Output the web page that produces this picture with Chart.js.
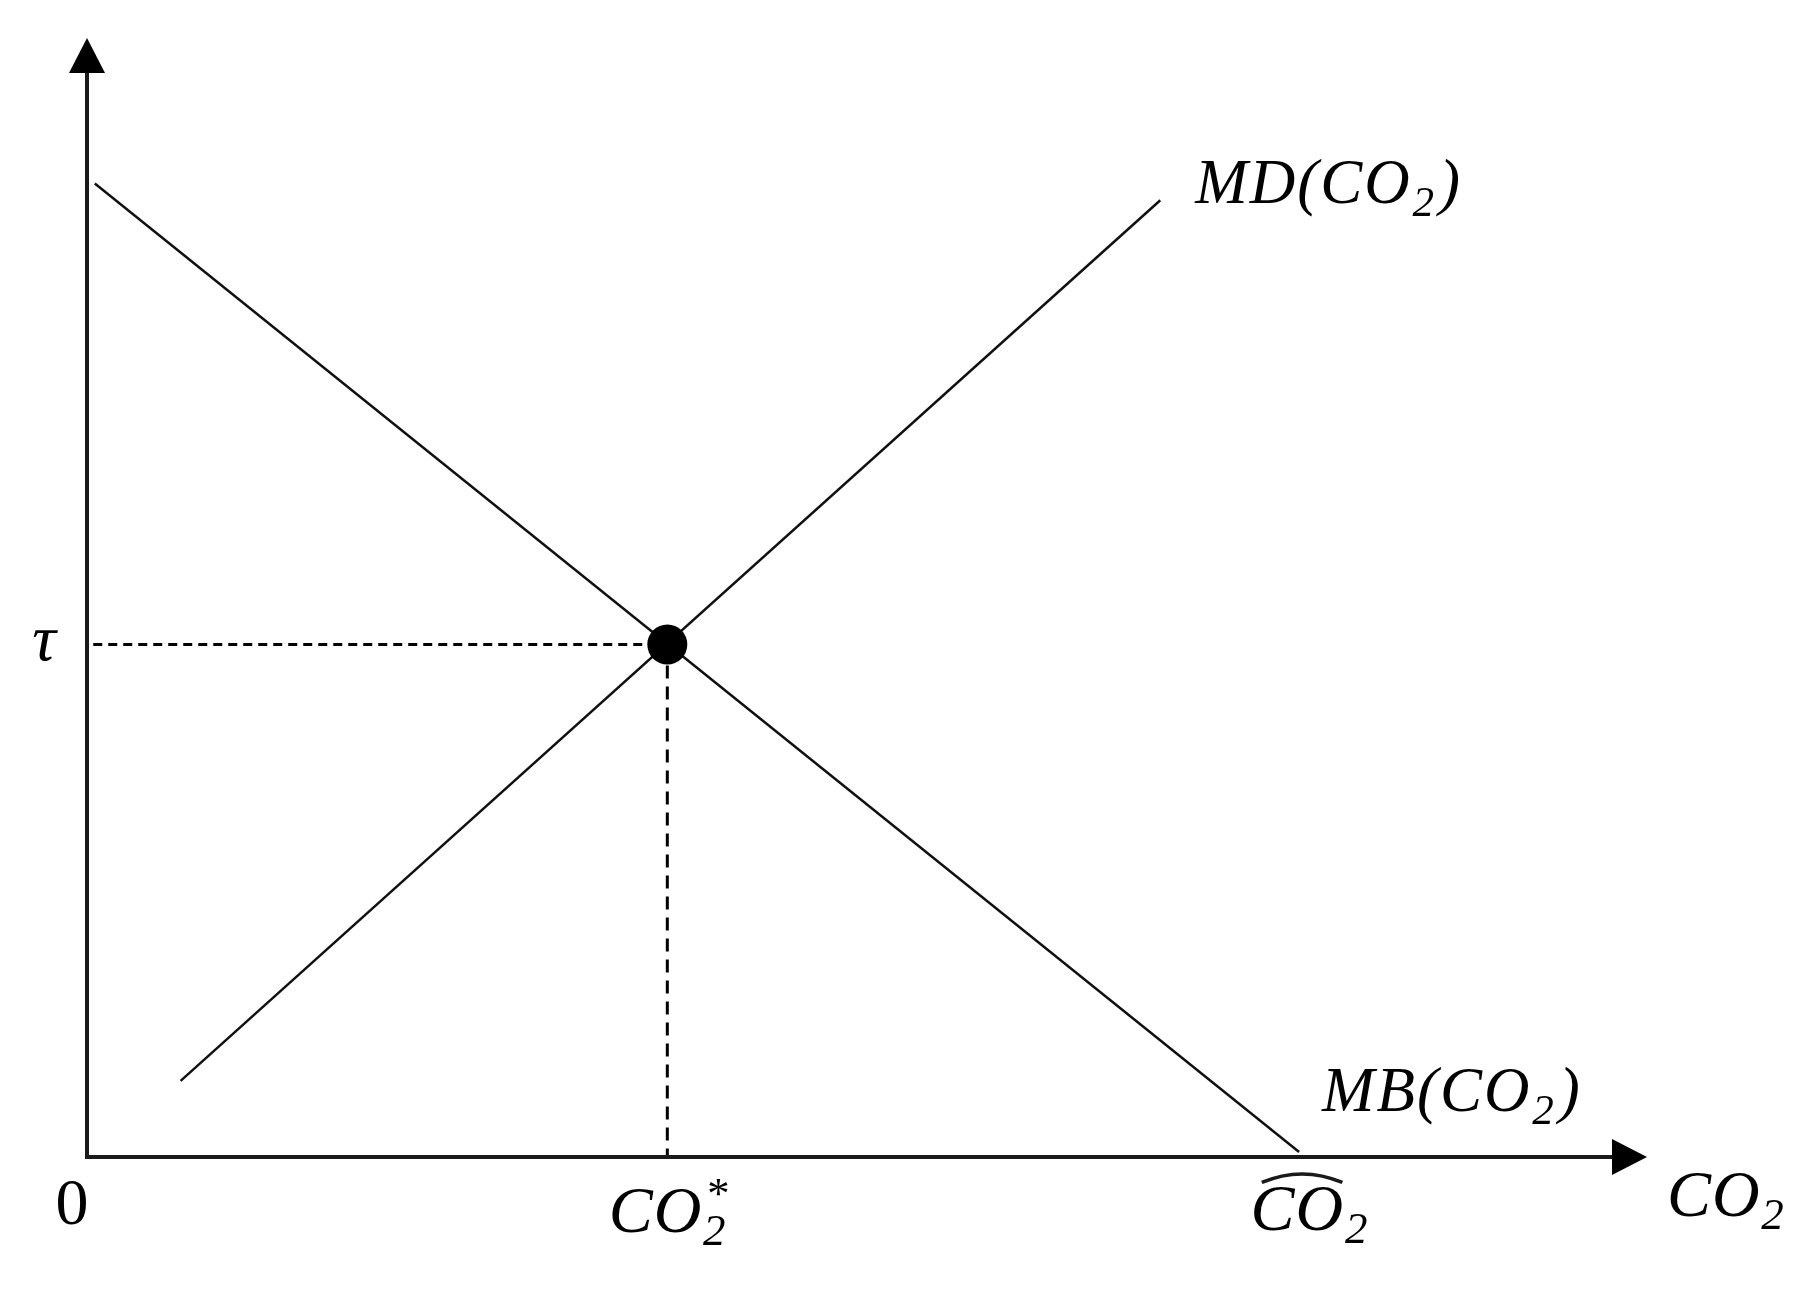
<!DOCTYPE html>
<html>
<head>
<meta charset="utf-8">
<script src="https://cdn.jsdelivr.net/npm/chart.js@4.4.0/dist/chart.umd.min.js"></script>
<style>
  html, body { margin: 0; padding: 0; background: #fff; }
  #wrap { width: 1819px; height: 1312px; }
</style>
</head>
<body>
<div id="wrap"><canvas id="grafico"></canvas></div>
<script>
// Datos del diagrama (unidades arbitrarias 0-100 en ambos ejes)
const mbX = [0.5, 77.7];    // beneficio marginal MB(CO2)
const mbY = [87.0, 0.45];
const mdX = [6.0, 68.8];    // daño marginal MD(CO2)
const mdY = [6.8, 85.5];
const eqX = [37.2];         // equilibrio CO2*
const eqY = [45.8];         // impuesto tau
const xTicks = [0, 37.2, 77.7];           // 0, CO2*, CO2 sombrero
const xTickNames = ['0', 'star', 'hat'];

const FONT = '"Liberation Serif", "DejaVu Serif", serif';

// Texto con subindices / superindices tipo formula
const drawRich = (ctx, segs, x, y, size, align, spacing = 0) => {
  const main = `italic ${size}px ${FONT}`;
  const small = `italic ${Math.round(size * 0.68)}px ${FONT}`;
  ctx.letterSpacing = `${spacing}px`;
  const widths = segs.map(s => {
    if (s.t !== undefined) { ctx.font = s.upright ? `${size}px ${FONT}` : main; return ctx.measureText(s.t).width; }
    ctx.font = small;
    return Math.max(s.sub ? ctx.measureText(s.sub).width : 0, s.sup ? ctx.measureText(s.sup).width : 0) + size * 0.06;
  });
  const total = widths.reduce((a, b) => a + b, 0);
  let cx = align === 'center' ? x - total / 2 : align === 'right' ? x - total : x;
  ctx.textBaseline = 'alphabetic';
  ctx.textAlign = 'left';
  segs.forEach((s, i) => {
    if (s.t !== undefined) {
      ctx.font = s.upright ? `${size}px ${FONT}` : main;
      ctx.fillText(s.t, cx, y);
      if (s.hat) {
        const w = widths[i];
        ctx.save();
        ctx.lineWidth = 3.5;
        ctx.beginPath();
        ctx.moveTo(cx + w * 0.12, y - size * 0.72);
        ctx.quadraticCurveTo(cx + w * 0.55, y - size * 0.98, cx + w * 0.98, y - size * 0.72);
        ctx.stroke();
        ctx.restore();
      }
    } else {
      ctx.font = small;
      if (s.sub) ctx.fillText(s.sub, cx + size * 0.01, y + size * 0.2);
      if (s.sup) ctx.fillText(s.sup, cx + size * 0.04, y - size * 0.36);
    }
    cx += widths[i];
  });
  ctx.letterSpacing = '0px';
};

const ejesYTextos = {
  id: 'ejesYTextos',
  afterDatasetsDraw(chart) {
    const { ctx, chartArea: a, scales } = chart;
    const sx = scales.x, sy = scales.y;
    ctx.save();
    ctx.strokeStyle = '#1a1a1a';
    ctx.fillStyle = '#000';
    ctx.lineWidth = 4;
    // Eje Y con flecha
    ctx.beginPath();
    ctx.moveTo(a.left, a.bottom + 2);
    ctx.lineTo(a.left, a.top + 30);
    ctx.stroke();
    ctx.beginPath();
    ctx.moveTo(a.left, a.top);
    ctx.lineTo(a.left - 18, a.top + 35);
    ctx.lineTo(a.left + 18, a.top + 35);
    ctx.closePath();
    ctx.fill();
    // Eje X con flecha
    ctx.beginPath();
    ctx.moveTo(a.left - 2, a.bottom);
    ctx.lineTo(a.right - 30, a.bottom);
    ctx.stroke();
    ctx.beginPath();
    ctx.moveTo(a.right, a.bottom);
    ctx.lineTo(a.right - 35, a.bottom - 18);
    ctx.lineTo(a.right - 35, a.bottom + 18);
    ctx.closePath();
    ctx.fill();

    // tau
    ctx.font = `italic 66px ${FONT}`;
    ctx.textAlign = 'center';
    ctx.textBaseline = 'middle';
    ctx.fillText('\u03C4', a.left - 43, sy.getPixelForValue(eqY[0]) - 2);

    // Etiquetas del eje X
    xTicks.forEach((v, i) => {
      const px = sx.getPixelForValue(v);
      if (xTickNames[i] === '0') {
        drawRich(ctx, [{ t: '0', upright: true }], px - 15, a.bottom + 67, 66, 'center');
      } else if (xTickNames[i] === 'star') {
        drawRich(ctx, [{ t: 'CO' }, { sub: '2', sup: '*' }], px + 2, a.bottom + 75, 66, 'center', 1);
      } else {
        drawRich(ctx, [{ t: 'CO', hat: true }, { sub: '2' }], px + 12, a.bottom + 73, 66, 'center', 1);
      }
    });
    // Titulo eje X
    drawRich(ctx, [{ t: 'CO' }, { sub: '2' }], a.right + 20, a.bottom + 59, 66, 'left', 1);

    // Nombres de las curvas
    const mdEndX = sx.getPixelForValue(mdX[1]), mdEndY = sy.getPixelForValue(mdY[1]);
    drawRich(ctx, [{ t: 'MD(CO' }, { sub: '2' }, { t: ')' }], mdEndX + 35, mdEndY + 3, 63, 'left', 2);
    const mbEndX = sx.getPixelForValue(mbX[1]), mbEndY = sy.getPixelForValue(mbY[1]);
    drawRich(ctx, [{ t: 'MB(CO' }, { sub: '2' }, { t: ')' }], mbEndX + 23, mbEndY - 41, 63, 'left', 2);
    ctx.restore();
  }
};

const toPts = (xs, ys) => xs.map((x, i) => ({ x, y: ys[i] }));

new Chart(document.getElementById('grafico'), {
  type: 'scatter',
  data: {
    datasets: [
      {
        label: 'equilibrio',
        data: toPts(eqX, eqY),
        pointRadius: 20,
        pointBackgroundColor: '#000',
        pointBorderColor: '#000',
        pointBorderWidth: 0,
        order: 0,
        clip: false
      },
      {
        label: 'MB',
        data: toPts(mbX, mbY),
        showLine: true,
        borderColor: '#111',
        borderWidth: 2.5,
        pointRadius: 0,
        order: 1
      },
      {
        label: 'MD',
        data: toPts(mdX, mdY),
        showLine: true,
        borderColor: '#111',
        borderWidth: 2.5,
        pointRadius: 0,
        order: 1
      },
      {
        label: 'tau',
        data: [{ x: 0.4, y: eqY[0] }, { x: eqX[0], y: eqY[0] }],
        showLine: true,
        borderColor: '#000',
        borderWidth: 3,
        borderDash: [9, 6],
        pointRadius: 0,
        order: 2
      },
      {
        label: 'co2star',
        data: [{ x: eqX[0], y: eqY[0] }, { x: eqX[0], y: 0 }],
        showLine: true,
        borderColor: '#000',
        borderWidth: 3,
        borderDash: [13, 8],
        pointRadius: 0,
        order: 2
      }
    ]
  },
  options: {
    responsive: true,
    maintainAspectRatio: false,
    animation: false,
    layout: { padding: { left: 87, right: 172, top: 38, bottom: 155 } },
    plugins: { legend: { display: false }, tooltip: { enabled: false } },
    scales: {
      x: { type: 'linear', min: 0, max: 100, display: false },
      y: { type: 'linear', min: 0, max: 100, display: false }
    }
  },
  plugins: [ejesYTextos]
});
</script>
</body>
</html>
